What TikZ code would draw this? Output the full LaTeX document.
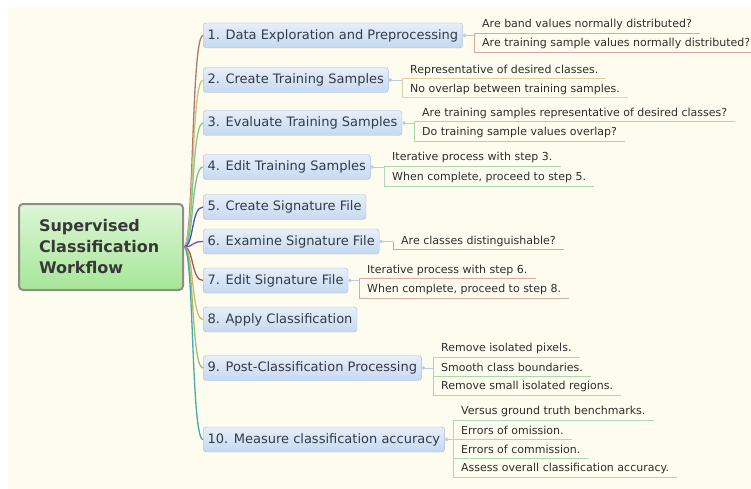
\documentclass[tikz,border=0pt]{standalone}
\usepackage{fontspec}
\setmainfont{DejaVu Sans}
\usetikzlibrary{arrows.meta}
\definecolor{paper}{HTML}{FDFCEE}
\definecolor{roottop}{HTML}{DDF6D6}
\definecolor{rootbot}{HTML}{A6E698}
\definecolor{rootline}{HTML}{8E8E86}
\definecolor{roottext}{HTML}{383838}
\definecolor{topictop}{HTML}{E6EFFB}
\definecolor{topicbot}{HTML}{C6D8F0}
\definecolor{topicline}{HTML}{A8BCD8}
\definecolor{topictext}{HTML}{333B47}
\definecolor{topicdot}{HTML}{B8CCE8}
\definecolor{itemtext}{HTML}{2E2E2E}
\definecolor{c1}{HTML}{B5766A}
\definecolor{c2}{HTML}{C9C27A}
\definecolor{c3}{HTML}{8CC88C}
\definecolor{c4}{HTML}{78BFA0}
\definecolor{c5}{HTML}{4858A8}
\definecolor{c6}{HTML}{8848B0}
\definecolor{c7}{HTML}{A85A48}
\definecolor{c8}{HTML}{D0B868}
\definecolor{c9}{HTML}{98C070}
\definecolor{c10}{HTML}{48A8A8}
\definecolor{r1}{HTML}{DCA8A4}
\definecolor{r2}{HTML}{DCD4A8}
\definecolor{r3}{HTML}{ACD8AC}
\definecolor{r4}{HTML}{ACD8B4}
\definecolor{r6}{HTML}{DCA0A0}
\definecolor{r7}{HTML}{DCA8A0}
\definecolor{r9}{HTML}{ACD8AC}
\definecolor{r10}{HTML}{ACD8BC}
\begin{document}
\begin{tikzpicture}[x=1pt,y=-1pt]
      \tikzstyle{topic}=[draw=topicline,rounded corners=3pt,top color=topictop,bottom color=topicbot,text=topictext,anchor=west,minimum height=25pt,inner xsep=4.5pt,font=\fontsize{13}{15}\selectfont]
      \tikzstyle{item}=[anchor=west,inner xsep=8pt,inner ysep=0pt,minimum height=17pt,text=itemtext,font=\fontsize{11}{13}\selectfont]
      \tikzstyle{branch}=[draw,line width=1.3pt]
      \tikzstyle{link}=[draw=topicdot,line width=0.8pt,{Circle[length=3.5pt]}-]
      \tikzstyle{rule}=[draw,line width=0.9pt]
      \useasboundingbox (0,0) rectangle (751,489);
      \path[fill=white] (0,0) rectangle (751,489);
      \path[fill=paper] (8,7) rectangle (751,489);
      \node[draw=rootline,line width=2pt,rounded corners=4pt,top color=roottop,bottom color=rootbot,text=roottext,minimum width=164pt,minimum height=86pt,text width=124pt,inner xsep=20pt,align=left,font=\bfseries\fontsize{16}{21}\selectfont] (root) at (101,247) {Supervised\\Classification\\Workflow};
      \node[topic] (s1) at (203,35.5) {1. Data Exploration and Preprocessing};
      \node[topic] (s2) at (203,80) {2. Create Training Samples};
      \node[topic] (s3) at (203,123) {3. Evaluate Training Samples};
      \node[topic] (s4) at (203,167) {4. Edit Training Samples};
      \node[topic] (s5) at (203,207) {5. Create Signature File};
      \node[topic] (s6) at (203,241.5) {6. Examine Signature File};
      \node[topic] (s7) at (203,280.5) {7. Edit Signature File};
      \node[topic] (s8) at (203,319.5) {8. Apply Classification};
      \node[topic] (s9) at (203,368) {9. Post-Classification Processing};
      \node[topic] (s10) at (203,439.5) {10. Measure classification accuracy};
      \node[item] (l1a) at (474,24.5) {Are band values normally distributed?};
      \node[item] (l1b) at (474,43.5) {Are training sample values normally distributed?};
      \node[item] (l2a) at (402,70) {Representative of desired classes.};
      \node[item] (l2b) at (402,89) {No overlap between training samples.};
      \node[item] (l3a) at (414,113) {Are training samples representative of desired classes?};
      \node[item] (l3b) at (414,132.5) {Do training sample values overlap?};
      \node[item] (l4a) at (384,157.5) {Iterative process with step 3.};
      \node[item] (l4b) at (384,177.5) {When complete, proceed to step 5.};
      \node[item] (l6a) at (393,241) {Are classes distinguishable?};
      \node[item] (l7a) at (359,270) {Iterative process with step 6.};
      \node[item] (l7b) at (359,289.5) {When complete, proceed to step 8.};
      \node[item] (l9a) at (433,348.5) {Remove isolated pixels.};
      \node[item] (l9b) at (433,367.5) {Smooth class boundaries.};
      \node[item] (l9c) at (433,386.5) {Remove small isolated regions.};
      \node[item] (l10a) at (453,411.5) {Versus ground truth benchmarks.};
      \node[item] (l10b) at (453,430.5) {Errors of omission.};
      \node[item] (l10c) at (453,449.5) {Errors of commission.};
      \node[item] (l10d) at (453,468.5) {Assess overall classification accuracy.};
      \path[branch,c1] (root.east) .. controls +(10,0) and +(-12,0) .. (s1.west);
      \path[branch,c2] (root.east) .. controls +(10,0) and +(-12,0) .. (s2.west);
      \path[branch,c3] (root.east) .. controls +(10,0) and +(-12,0) .. (s3.west);
      \path[branch,c4] (root.east) .. controls +(10,0) and +(-12,0) .. (s4.west);
      \path[branch,c5] (root.east) .. controls +(10,0) and +(-12,0) .. (s5.west);
      \path[branch,c6] (root.east) .. controls +(10,0) and +(-12,0) .. (s6.west);
      \path[branch,c7] (root.east) .. controls +(10,0) and +(-12,0) .. (s7.west);
      \path[branch,c8] (root.east) .. controls +(10,0) and +(-12,0) .. (s8.west);
      \path[branch,c9] (root.east) .. controls +(10,0) and +(-12,0) .. (s9.west);
      \path[branch,c10] (root.east) .. controls +(10,0) and +(-12,0) .. (s10.west);
      \path[link] (s1.east) -- (s1.east -| l1a.west);
      \path[link] (s2.east) -- (s2.east -| l2a.west);
      \path[link] (s3.east) -- (s3.east -| l3a.west);
      \path[link] (s4.east) -- (s4.east -| l4a.west);
      \path[link] (s6.east) -- (s6.east -| l6a.west);
      \path[link] (s7.east) -- (s7.east -| l7a.west);
      \path[link] (s9.east) -- (s9.east -| l9a.west);
      \path[link] (s10.east) -- (s10.east -| l10a.west);
      \path[rule,r1] (l1a.south west) -- (l1a.south east);
      \path[rule,r1] (l1a.south west) -- (l1b.south west) -- (l1b.south east);
      \path[rule,r2] (l2a.south west) -- (l2a.south east);
      \path[rule,r2] (l2a.south west) -- (l2b.south west) -- (l2b.south east);
      \path[rule,r3] (l3a.south west) -- (l3a.south east);
      \path[rule,r3] (l3a.south west) -- (l3b.south west) -- (l3b.south east);
      \path[rule,r4] (l4a.south west) -- (l4a.south east);
      \path[rule,r4] (l4a.south west) -- (l4b.south west) -- (l4b.south east);
      \path[rule,r6] (s6.east -| l6a.west) -- (l6a.south west) -- (l6a.south east);
      \path[rule,r7] (l7a.south west) -- (l7a.south east);
      \path[rule,r7] (l7a.south west) -- (l7b.south west) -- (l7b.south east);
      \path[rule,r9] (l9a.south west) -- (l9a.south east);
      \path[rule,r9] (l9b.south west) -- (l9b.south east);
      \path[rule,r9] (l9a.south west) -- (l9c.south west) -- (l9c.south east);
      \path[rule,r10] (l10a.south west) -- (l10a.south east);
      \path[rule,r10] (l10b.south west) -- (l10b.south east);
      \path[rule,r10] (l10c.south west) -- (l10c.south east);
      \path[rule,r10] (l10a.south west) -- (l10d.south west) -- (l10d.south east);
    \end{tikzpicture}
\end{document}
